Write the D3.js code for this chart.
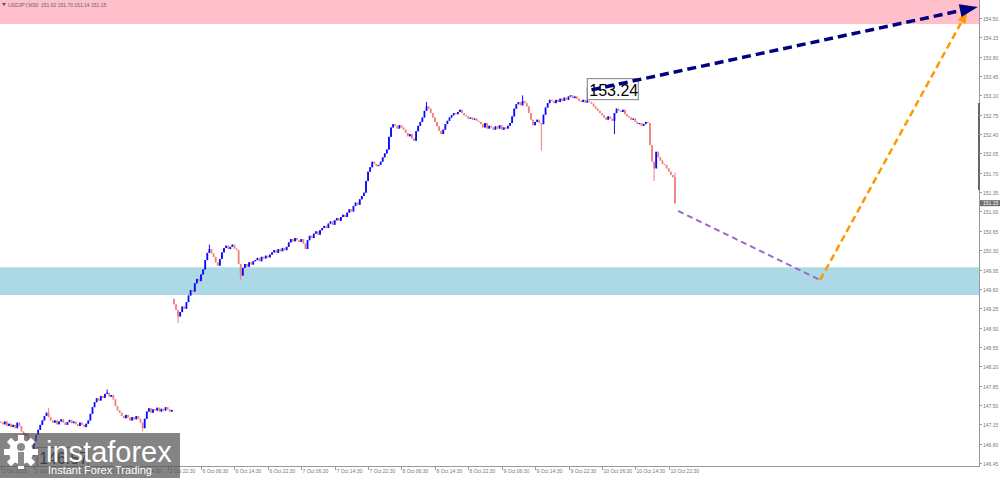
<!DOCTYPE html>
<html>
<head>
<meta charset="utf-8">
<script src="https://cdn.jsdelivr.net/npm/d3@7"></script>
<style>
  html, body { margin: 0; padding: 0; background: #fff; }
  svg { display: block; }
</style>
</head>
<body>
<svg id="chart" width="1000" height="478"></svg>
<script>
// USDJPY M30 closes, one per bar (2 Oct 06:30 .. 11 Oct 00:00)
var closes = [
  147.18,147.15,147.20,147.12,147.16, 147.10,147.14,147.08,147.18,147.12,
  147.02,146.95,146.98,146.88,146.76,146.70, 146.85,146.96,147.05,147.14,147.22,
  147.30,147.36,147.28,147.22,
  147.18,147.22,147.15,147.20,147.24,147.18,147.14,147.19,147.23,147.17,147.20,147.15,147.12,147.18,147.14,147.10,147.16,
  147.22,147.34,147.46,147.55,147.62,
  147.58,147.66,147.63,147.70,147.72,147.65,147.68,147.60,
  147.48,147.40,147.36,
  147.30,147.26,147.32,147.27,147.22,147.28,147.24,147.30,147.25,147.18,147.08,
  147.25,147.38,147.44,147.36,147.42,147.40,147.45,147.38,147.43,147.40,147.46,147.42,147.38,147.41,
  // weekend gap
  149.32,149.22,149.10, 149.18,149.28,149.24,149.36, 149.48,149.58,149.55,
  149.70,149.78,149.74,149.86,149.95, 150.12,150.25,150.32, 150.24,150.18,150.08,150.02,
  150.14,150.26, 150.34,150.38,150.32,150.36,150.40,150.33,150.30, 150.05,149.84,
  149.98,150.05,150.00,150.08,150.04,150.10,
  150.12,150.16,150.10,150.18,150.15,150.20,150.17,150.22,
  150.26,150.30,150.25,150.32,150.28,150.34,150.30,150.36,
  150.44,150.50,150.46,150.52,150.48,150.45,150.50,150.42, 150.32,
  150.48,150.56,150.52,150.60,150.64,150.58,150.66,150.70,
  150.74,150.70,150.78,150.82,150.76,150.84,150.88,150.83,150.90,150.94,150.90,
  150.98,151.04,151.00,151.10,151.16,151.12,151.22,151.28,151.34,
  151.55,151.72,151.80,151.90, 151.86,151.82,151.84, 151.90,151.98,152.05,152.12,
  152.35,152.52,152.58,152.55, 152.50,152.56,152.52,152.48,
  152.42,152.36,152.40,152.32,152.28, 152.45,152.55,152.62,152.70,
  152.82,152.90,152.86, 152.78,152.70,152.62,152.54, 152.46,152.40,152.48,
  152.58,152.64,152.70, 152.74,152.78,152.76,152.80,152.84,152.78,
  152.74,152.72,152.68,152.70,152.66,152.68,152.64,152.62,
  152.58,152.52,152.60,152.50,152.55,
  152.52,152.48,152.54,152.50,152.56,152.48,152.52,152.50,152.55, 152.60,
  152.72,152.86,152.94, 152.98,152.92,153.00,152.96,152.90,
  152.78,152.66,152.56, 152.62,152.66,152.60,152.58,
  152.75,152.88,152.96,153.02,153.00,
  152.96,153.02,152.98,153.04,153.00,153.06,153.02,
  153.08,153.10,153.05,153.08,153.04, 153.00,152.98,153.02,152.97,153.00,
  152.98,152.95, 152.90,152.86,152.82,152.78,152.74,
  152.70,152.66,152.72,152.68,152.64, 152.78,152.86,152.82,
  152.80,152.84,152.76,152.72, 152.70,152.66,152.68,152.62,152.58,152.60,152.55,
  152.58,152.62,152.60, 152.20,151.90, 151.78,152.08,
  151.98,151.92,151.86,151.84,151.78,151.72, 151.66,151.62, 151.15
];
var firstOpen = 147.20;
var gapOpens = [[83, 149.42]];
// long wicks visible on the chart [bar, price]
var highSpikes = [[23,147.45],[51,147.78],[100,150.40],[204,152.98],[250,153.10],[281,153.24],[323,151.70]];
var lowSpikes = [[16,146.57],[68,147.02],[85,148.98],[115,149.76],[259,152.10],[294,152.40],[313,151.55],[323,151.14]];

// zones (price ranges)
var sellZone = [154.39, 154.85];
var buyZone = [149.49, 149.99];

// forecast lines [bar, price]
var forecastArrow = [[283, 153.20], [468, 154.70]];
var waveDown = [[324.5, 151.01], [392.5, 149.76]];
var waveUp = [[392.5, 149.76], [463, 154.62]];

var priceLabels = [
  { bar: 281, price: 153.24, text: "153.24" },
  { bar: 17.5, price: 146.57, text: "146.57" }
];

var yTicks = ["154.50","154.15","153.80","153.45","153.10","152.75","152.40","152.05","151.70","151.35",
  "151.00","150.65","150.30","149.95","149.60","149.25","148.90","148.55","148.20","147.85",
  "147.50","147.15","146.80","146.45"];
var xLabels = ["2 Oct 2025","2 Oct 14:30","2 Oct 22:30","3 Oct 06:30","3 Oct 14:30","3 Oct 22:30",
  "6 Oct 06:30","6 Oct 14:30","6 Oct 22:30","7 Oct 06:30","7 Oct 14:30","7 Oct 22:30",
  "8 Oct 06:30","8 Oct 14:30","8 Oct 22:30","9 Oct 06:30","9 Oct 14:30","9 Oct 22:30",
  "10 Oct 06:30","10 Oct 14:30","10 Oct 22:30"];
var barsPerLabel = 16;
var lastPrice = 151.15;
var titleText = "USDJPY,M30  151.62 151.70 151.14 151.15";

var plotRight = 979, plotBottom = 467;
var svg = d3.select("#chart");
var font = "'Liberation Sans', Arial, sans-serif";

var x = d3.scaleLinear().domain([0, closes.length - 1]).range([0.6, 675]);
var y = d3.scaleLinear().domain([146.45, 154.50]).range([463, 18]);

svg.append("rect").attr("width", 1000).attr("height", 478).attr("fill", "#fff");

svg.append("clipPath").attr("id", "plot")
  .append("rect").attr("x", 0).attr("y", 0).attr("width", plotRight).attr("height", plotBottom);

var plot = svg.append("g").attr("clip-path", "url(#plot)");

// zones
[[sellZone, "#ffc0cb"], [buyZone, "#add8e6"]].forEach(function(z) {
  plot.append("rect")
    .attr("x", 0).attr("width", plotRight)
    .attr("y", y(z[0][1])).attr("height", y(z[0][0]) - y(z[0][1]))
    .attr("fill", z[1]);
});

// build candles
var candles = closes.map(function(c, i) {
  var o = i === 0 ? firstOpen : closes[i - 1];
  gapOpens.forEach(function(g) { if (g[0] === i) o = g[1]; });
  var h = Math.max(o, c), l = Math.min(o, c);
  highSpikes.forEach(function(s) { if (s[0] === i) h = Math.max(h, s[1]); });
  lowSpikes.forEach(function(s) { if (s[0] === i) l = Math.min(l, s[1]); });
  return { i: i, o: o, c: c, h: h, l: l };
});

var bull = "#0a0aff", bear = "#f08080";
var cg = plot.append("g");
cg.selectAll("line").data(candles).enter().append("line")
  .attr("x1", function(d) { return x(d.i); })
  .attr("x2", function(d) { return x(d.i); })
  .attr("y1", function(d) { return y(d.h); })
  .attr("y2", function(d) { return y(d.l); })
  .attr("stroke", function(d) { return d.c >= d.o ? bull : bear; })
  .attr("stroke-width", 1);
cg.selectAll("rect").data(candles).enter().append("rect")
  .attr("x", function(d) { return x(d.i) - 0.9; })
  .attr("width", 1.8)
  .attr("y", function(d) { return y(Math.max(d.o, d.c)); })
  .attr("height", function(d) { return Math.max(1, Math.abs(y(d.o) - y(d.c))); })
  .attr("fill", function(d) { return d.c >= d.o ? bull : bear; });

// price label boxes
priceLabels.forEach(function(p) {
  var g = plot.append("g");
  var bx = x(p.bar), by = y(p.price) - 9;
  g.append("rect").attr("x", bx).attr("y", by).attr("width", 51).attr("height", 21)
    .attr("fill", "#fff").attr("stroke", "#808080").attr("stroke-width", 1);
  g.append("text").attr("x", bx + 2).attr("y", by + 17).text(p.text)
    .attr("font-family", font).attr("font-size", 16).attr("fill", "#000");
});

// forecast lines
function px(p) { return [x(p[0]), y(p[1])]; }
function arrowHead(from, to, len, wid, color) {
  var a = px(from), b = px(to);
  var dx = b[0] - a[0], dy = b[1] - a[1], L = Math.sqrt(dx * dx + dy * dy);
  var ux = dx / L, uy = dy / L;
  var bx = b[0] - ux * len, by = b[1] - uy * len;
  plot.append("path")
    .attr("d", "M" + b[0] + "," + b[1] + "L" + (bx - uy * wid / 2) + "," + (by + ux * wid / 2) +
      "L" + (bx + uy * wid / 2) + "," + (by - ux * wid / 2) + "Z")
    .attr("fill", color);
  return [bx + ux * 2, by + uy * 2];
}
function dashed(pts, color, w, dash) {
  plot.append("path")
    .attr("d", d3.line()(pts))
    .attr("fill", "none").attr("stroke", color)
    .attr("stroke-width", w).attr("stroke-dasharray", dash);
}

dashed(waveDown.map(px), "#9966cc", 2, "6,4");
var oEnd = arrowHead(waveUp[0], waveUp[1], 12, 9, "#ff9900");
dashed([px(waveUp[0]), oEnd], "#ff9900", 2.5, "7,4");
var nEnd = arrowHead(forecastArrow[0], forecastArrow[1], 18, 13, "#000080");
dashed([px(forecastArrow[0]), nEnd], "#000080", 3.5, "9,5");

// axes
svg.append("line").attr("x1", plotRight + 0.5).attr("x2", plotRight + 0.5)
  .attr("y1", 0).attr("y2", plotBottom).attr("stroke", "#999");
svg.append("line").attr("x1", 0).attr("x2", plotRight + 0.5)
  .attr("y1", plotBottom - 0.5).attr("y2", plotBottom - 0.5).attr("stroke", "#999");
svg.append("line").attr("x1", plotRight).attr("x2", plotRight)
  .attr("y1", 103).attr("y2", 190).attr("stroke", "#666").attr("stroke-width", 2);

var ya = svg.append("g");
yTicks.forEach(function(t) {
  var yy = Math.round(y(+t)) + 0.5;
  ya.append("line").attr("x1", plotRight).attr("x2", plotRight + 3)
    .attr("y1", yy).attr("y2", yy).attr("stroke", "#999");
  ya.append("text").attr("x", 983).attr("y", yy + 2).text(t)
    .attr("font-family", font).attr("font-size", 5).attr("fill", "#777");
});

// current price tag
svg.append("rect").attr("x", plotRight + 1).attr("y", y(lastPrice) - 3).attr("width", 21).attr("height", 6)
  .attr("fill", "#6e6e6e");
svg.append("text").attr("x", 983).attr("y", y(lastPrice) + 2).text(lastPrice.toFixed(2))
  .attr("font-family", font).attr("font-size", 5).attr("fill", "#fff");

var xa = svg.append("g");
xLabels.forEach(function(t, k) {
  var xx = Math.round(x(k * barsPerLabel)) + 0.5;
  xa.append("line").attr("x1", xx).attr("x2", xx)
    .attr("y1", plotBottom).attr("y2", plotBottom + 3).attr("stroke", "#999");
  xa.append("text").attr("x", xx + 1).attr("y", plotBottom + 6).text(t)
    .attr("font-family", font).attr("font-size", 5).attr("fill", "#777");
});

// title
svg.append("path").attr("d", "M2,3L6,3L4,6Z").attr("fill", "#555");
svg.append("text").attr("x", 8).attr("y", 6.5).text(titleText)
  .attr("font-family", font).attr("font-size", 5).attr("fill", "#666")
  .attr("xml:space", "preserve");

// watermark logo
var logo = svg.append("g");
logo.append("rect").attr("x", 0).attr("y", 433).attr("width", 180).attr("height", 45)
  .attr("fill", "#555").attr("opacity", 0.72);
var gear = logo.append("g").attr("transform", "translate(21,452)");
for (var k = 0; k < 8; k++) {
  gear.append("rect").attr("x", -3).attr("y", -17).attr("width", 6).attr("height", 7)
    .attr("fill", "#fff").attr("transform", "rotate(" + (k * 45) + ")");
}
gear.append("circle").attr("r", 12).attr("fill", "#fff");
gear.append("circle").attr("cy", -5).attr("r", 4).attr("fill", "#8a8a8a");
gear.append("rect").attr("x", -3).attr("y", 0).attr("width", 6).attr("height", 14).attr("fill", "#8a8a8a");
logo.append("text").attr("x", 46).attr("y", 462).text("instaforex")
  .attr("font-family", font).attr("font-size", 29).attr("fill", "#fff");
logo.append("text").attr("x", 48).attr("y", 474).text("Instant Forex Trading")
  .attr("font-family", font).attr("font-size", 11).attr("fill", "#fff");
</script>
</body>
</html>
